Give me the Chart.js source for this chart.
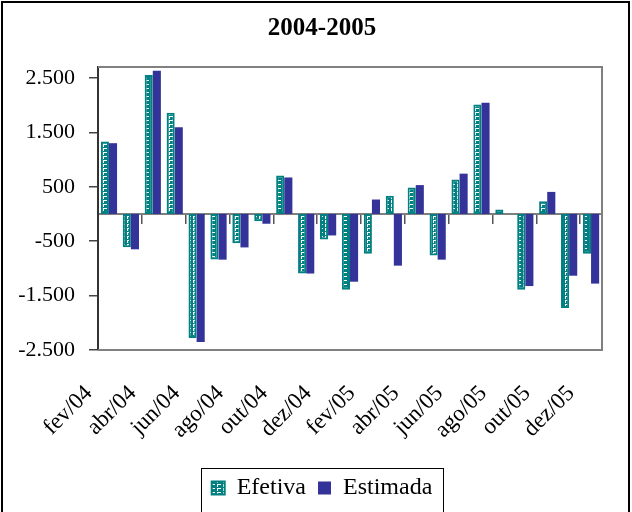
<!DOCTYPE html>
<html lang="pt">
<head>
<meta charset="UTF-8">
<title>2004-2005</title>
<script src="https://cdn.jsdelivr.net/npm/chart.js"></script>
<style>
  html, body { margin: 0; padding: 0; background: #fff; }
  #wrap { position: relative; width: 632px; height: 512px; }
  #frame { position: absolute; left: 1px; top: 1px; width: 625px; height: 530px; border: 2px solid #000; pointer-events: none; }
</style>
</head>
<body>
<div id="wrap">
  <canvas id="chart"></canvas>
  <div id="frame"></div>
</div>
<script>
// meses (fev/04 a dez/05)
const months = ['fev/04', 'mar/04', 'abr/04', 'mai/04', 'jun/04', 'jul/04', 'ago/04', 'set/04',
                'out/04', 'nov/04', 'dez/04', 'jan/05', 'fev/05', 'mar/05', 'abr/05', 'mai/05',
                'jun/05', 'jul/05', 'ago/05', 'set/05', 'out/05', 'nov/05', 'dez/05'];
const efetiva  = [1330, -610, 2555, 1860, -2280, -835, -540, -135,
                  705, -1095, -470, -1395, -730, 335, 485, -765,
                  635, 2010, 80, -1395, 235, -1730, -730];
const estimada = [1300, -650, 2630, 1595, -2355, -840, -615, -180,
                  670, -1095, -395, -1245, 265, -950, 530, -840,
                  740, 2045, 0, -1325, 405, -1135, -1280];
const yTicks = [-2500, -1500, -500, 500, 1500, 2500];

const TEAL = '#008080';
const NAVY = '#333399';
const FONT = "'Liberation Serif', 'Times New Roman', serif";

// escadinha branca sobre fundo verde-azulado
function brickPattern() {
  const c = document.createElement('canvas');
  c.width = 6; c.height = 4;
  const g = c.getContext('2d');
  g.fillStyle = TEAL;
  g.fillRect(0, 0, 6, 4);
  g.fillStyle = '#ffffff';
  g.fillRect(1, 0, 4, 1);
  g.fillRect(1, 1, 1, 2);
  return g.createPattern(c, 'repeat');
}

function fmt(v) {
  const s = Math.abs(v).toString().replace(/\B(?=(\d{3})+(?!\d))/g, '.');
  return (v < 0 ? '-' : '') + s;
}

// moldura cinza da área de plotagem
const plotFrame = {
  id: 'plotFrame',
  afterLayout(chart) {
    // os rótulos do eixo y passam da largura fixa do eixo; evita o recorte
    chart.scales.y.left = 0;
  },
  beforeDatasetsDraw(chart) {
    const { ctx, chartArea: a } = chart;
    ctx.save();
    ctx.strokeStyle = '#808080';
    ctx.lineWidth = 2;
    ctx.beginPath();
    ctx.moveTo(a.left, a.top);
    ctx.lineTo(a.right, a.top);
    ctx.lineTo(a.right, a.bottom);
    ctx.lineTo(a.left, a.bottom);
    ctx.stroke();
    ctx.restore();
  }
};

// caixa em volta da legenda
const legendFrame = {
  id: 'legendFrame',
  afterDraw(chart) {
    const boxes = chart.legend && chart.legend.legendHitBoxes;
    if (!boxes || !boxes.length) return;
    const left = Math.min(...boxes.map(b => b.left)) - 11;
    const right = Math.max(...boxes.map(b => b.left + b.width)) + 10;
    const top = boxes[0].top - 8;
    const bottom = boxes[0].top + boxes[0].height + 12;
    const ctx = chart.ctx;
    ctx.save();
    ctx.strokeStyle = '#000';
    ctx.lineWidth = 1;
    ctx.strokeRect(Math.round(left) + 0.5, Math.round(top) + 0.5, Math.round(right - left), Math.round(bottom - top));
    ctx.restore();
  }
};

const pattern = brickPattern();

new Chart(document.getElementById('chart'), {
  type: 'bar',
  data: {
    labels: months,
    datasets: [
      {
        label: 'Efetiva',
        data: efetiva,
        backgroundColor: pattern,
        borderColor: TEAL,
        borderWidth: 2,
        borderSkipped: false,
        barPercentage: 1.0,
        categoryPercentage: 0.74
      },
      {
        label: 'Estimada',
        data: estimada,
        backgroundColor: NAVY,
        borderColor: NAVY,
        borderWidth: 0,
        barPercentage: 1.0,
        categoryPercentage: 0.74
      }
    ]
  },
  options: {
    responsive: true,
    maintainAspectRatio: false,
    animation: false,
    layout: { padding: { top: 0, left: 42, right: 30, bottom: 2 } },
    scales: {
      x: {
        type: 'category',
        position: 'bottom',
        grid: { display: false },
        border: { display: false },
        ticks: {
          autoSkip: false,
          minRotation: 45,
          maxRotation: 45,
          padding: 22,
          labelOffset: -20,
          color: '#000',
          font: { family: FONT, size: 23 },
          callback: (v, i) => (i % 2 === 0 ? months[i] : '')
        },
        afterFit: (s) => {
          s.height = 114;
          // a largura da área de plotagem fica fixa pelo padding do layout
          s.paddingLeft = 0;
          s.paddingRight = 0;
        }
      },
      // eixo das categorias cruzando em zero, com marcas a cada dois meses
      x2: {
        type: 'category',
        axis: 'x',
        position: { y: 0 },
        z: 1,
        offset: true,
        ticks: { display: false },
        grid: {
          offset: true,
          drawOnChartArea: false,
          drawTicks: true,
          tickLength: 9,
          lineWidth: 1.5,
          color: (c) => (c.type === 'tick' && c.index > 0 && c.index % 2 === 0 ? '#555' : 'rgba(0,0,0,0)')
        },
        border: { display: true, color: 'rgba(0,0,0,0.5)', width: 2 }
      },
      y: {
        min: -2500,
        max: 2700,
        afterBuildTicks: (s) => { s.ticks = yTicks.map(v => ({ value: v })); },
        afterFit: (s) => { s.width = 56; },
        grid: {
          drawOnChartArea: false,
          drawTicks: true,
          tickLength: 9,
          color: '#444',
          lineWidth: 1.5
        },
        border: { display: true, color: '#333', width: 2 },
        ticks: {
          padding: 14,
          color: '#000',
          font: { family: FONT, size: 22 },
          callback: (v) => fmt(v)
        }
      }
    },
    plugins: {
      title: {
        display: true,
        text: '2004-2005',
        color: '#000',
        font: { family: FONT, size: 25, weight: 'bold' },
        padding: { top: 14, bottom: 23 }
      },
      legend: {
        display: true,
        position: 'bottom',
        labels: {
          color: '#000',
          font: { family: FONT, size: 24 },
          boxWidth: 13,
          boxHeight: 13,
          padding: 12
        }
      },
      tooltip: { enabled: false }
    }
  },
  plugins: [plotFrame, legendFrame]
});
</script>
</body>
</html>
